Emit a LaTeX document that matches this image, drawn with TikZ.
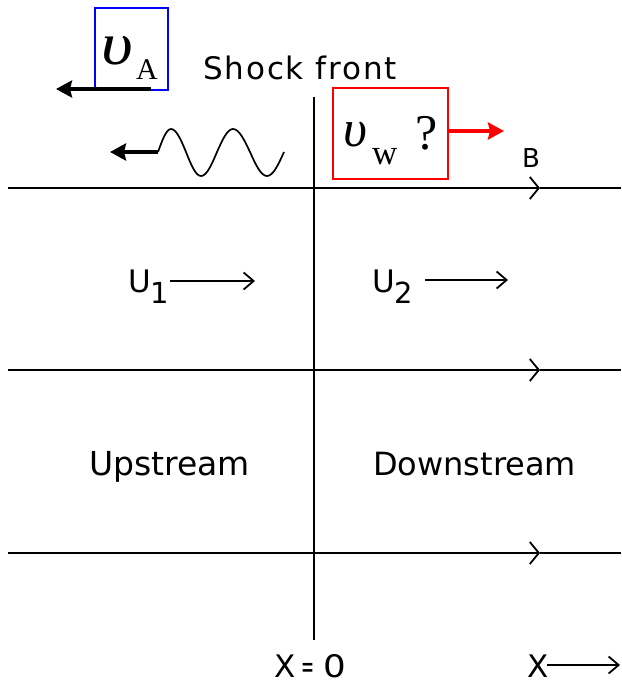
\documentclass[tikz,border=0pt]{standalone}
\usepackage{fontspec}
\setmainfont{DejaVu Sans}
\newfontfamily\tms{Liberation Serif}
\newfontfamily\spaced[LetterSpace=6]{DejaVu Sans}
\usetikzlibrary{arrows.meta}
\begin{document}
\begin{tikzpicture}[x=1pt,y=-1pt,
  lbl/.style={inner sep=0pt, anchor=base west, font=\fontsize{32}{36}\selectfont},
  fieldline/.style={line width=1.8pt},
  barb/.style={-{Straight Barb[length=9pt,width=22pt,line width=1.8pt]}},
  flowarrow/.style={line width=1.7pt,-{Straight Barb[length=10pt,width=17pt,line width=1.8pt]}},
  boldarrow/.style={line width=3.6pt,-{Stealth[length=16pt,width=17pt,inset=2pt]}},
  greek/.style={inner sep=0pt, anchor=base west},
]
\useasboundingbox (0,0) rectangle (621,685);

% boxes
\draw[blue, line width=1.3pt] (95,8) rectangle (168,90);
\node[draw=red, line width=1.5pt, minimum width=115pt, minimum height=91pt, inner sep=0pt] (rbox) at (390.5,133.5) {};

% v_A
\node[greek] (va) at (101,65) {\fontsize{60}{62}\tms\itshape\scalebox{1.15}[1]{υ}};
\node[greek] (vaA) at (136,80) {\fontsize{30}{32}\tms A};
\coordinate (vaS) at (151,89);
\coordinate (vaT) at (56,89);
\draw[boldarrow] (vaS) -- (vaT);

% v_w ?
\node[greek] (vw) at (343,146) {\fontsize{52}{54}\tms\itshape υ};
\node[greek] (vww) at (372,164) {\fontsize{35}{36}\tms w};
\node[greek] (q) at (415,149) {\fontsize{50}{52}\tms ?};
\coordinate (rT) at (504,131);
\draw[boldarrow, red] ([yshift=2.5pt]rbox.east) -- (rT);

% shock front label
\node[lbl, font=\fontsize{31}{34}\spaced] (shock) at (203,80) {Shock front};

% wave
\coordinate (w0) at (158,152);
\draw[line width=1.7pt] (w0) sin (171,129) cos (186,152) sin (201,176) cos (217,152)
  sin (233,129) cos (250,152) sin (267,176) cos (284,152);
\coordinate (waT) at (110,152);
\draw[boldarrow] (w0) -- (waT);

% shock front line
\coordinate (sTop) at (314,97);
\coordinate (sBot) at (314,640);
\draw[line width=2.4pt] (sTop) -- (sBot);

% field lines
\foreach \yy/\n in {188/1,370/2,553/3}{
  \coordinate (L\n) at (8,\yy);
  \coordinate (M\n) at (540,\yy);
  \coordinate (R\n) at (621,\yy);
  \draw[fieldline, barb] (L\n) -- (M\n);
  \draw[fieldline] (M\n) -- (R\n);
}
\node[lbl, font=\fontsize{26}{28}\selectfont] (B) at (522,167) {B};

% flow speeds
\node[lbl, font=\fontsize{31}{34}\selectfont] (u1) at (128,292) {U\raisebox{-11pt}{\fontsize{29}{30}\selectfont 1}};
\coordinate (u1a) at (170,281);
\coordinate (u1b) at (255,281);
\draw[flowarrow] (u1a) -- (u1b);
\node[lbl, font=\fontsize{31}{34}\selectfont] (u2) at (372,292) {U\raisebox{-11pt}{\fontsize{29}{30}\selectfont 2}};
\coordinate (u2a) at (425,280);
\coordinate (u2b) at (508,280);
\draw[flowarrow] (u2a) -- (u2b);

% region labels
\node[lbl, font=\fontsize{33}{36}\selectfont] (up) at (89,475) {Upstream};
\node[lbl] (down) at (373,475) {Downstream};

% bottom
\node[lbl, font=\fontsize{31}{34}\selectfont] (x0) at (274,677) {X\hspace{6pt}\scalebox{0.5}[1]{=}\hspace{9pt}\scalebox{1.15}[1]{0}};
\node[lbl, font=\fontsize{31}{34}\selectfont] (xl) at (527,677) {X};
\coordinate (xa) at (547,665);
\coordinate (xb) at (620,665);
\draw[flowarrow] (xa) -- (xb);
\end{tikzpicture}
\end{document}
